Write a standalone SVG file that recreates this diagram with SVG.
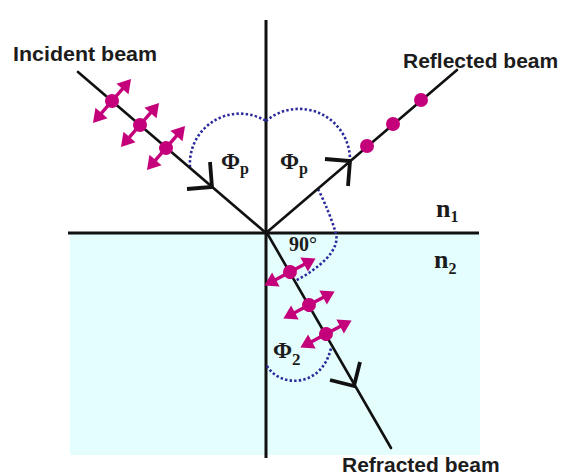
<svg xmlns="http://www.w3.org/2000/svg" xmlns:xlink="http://www.w3.org/1999/xlink" width="561" height="476" viewBox="0 0 561 476">
<style>
.axis{stroke:#111;stroke-width:3;fill:none}
.beam{stroke:#111;stroke-width:2.6;fill:none;stroke-linecap:round}
.chev{stroke:#111;stroke-width:3.8;fill:none;stroke-linejoin:miter}
.dot{stroke:#2b2b9c;stroke-width:2.6;fill:none;stroke-dasharray:2.4 2.2}
.lbl{font-family:"Liberation Sans",Arial,sans-serif;font-weight:bold;font-size:21px;fill:#1c1c1c}
.sym{font-family:"Liberation Serif","Times New Roman",serif;font-weight:bold;fill:#1c1c1c}
.pk{fill:#c4007a;stroke:none}
.pks{stroke:#c4007a;stroke-width:3.4}
</style>
<defs>
<g id="pol">
<line class="pks" x1="-18" y1="0" x2="18" y2="0"/>
<polygon class="pk" points="29,0 16,-8 16,8"/>
<polygon class="pk" points="-29,0 -16,-8 -16,8"/>
<circle class="pk" r="7"/>
</g>
</defs>
<rect x="0" y="0" width="561" height="476" fill="#ffffff"/>
<g id="medium2">
<rect x="70" y="233" width="410" height="222" fill="#e4fdfd"/>
</g>
<g id="axes">
<line class="axis" x1="266" y1="20" x2="266" y2="458"/>
<line class="axis" x1="68" y1="233" x2="479" y2="233"/>
</g>
<g id="angles">
<path class="dot" d="M190,167 A50,50 0 0 1 266,121"/>
<path class="dot" d="M266,121 A51,51 0 0 1 350,159"/>
<path class="dot" d="M318,189 C326,205 332,220 336,234 C340,250 320,268 295,281"/>
<path class="dot" d="M267,366 C280,388 322,388 331,348"/>
</g>
<g id="connectors">
<g id="incident">
<line class="beam" x1="78" y1="72" x2="266" y2="233"/>
<polyline class="chev" points="187,189 212,187 210,162"/>
<use xlink:href="#pol" href="#pol" transform="translate(112,101) rotate(-49)"/>
<use xlink:href="#pol" href="#pol" transform="translate(140,125) rotate(-49)"/>
<use xlink:href="#pol" href="#pol" transform="translate(166,148) rotate(-49)"/>
</g>
<g id="reflected">
<line class="beam" x1="266" y1="233" x2="457" y2="70"/>
<polyline class="chev" points="325,159 350,161 348,186"/>
<circle class="pk" cx="367" cy="146" r="7"/>
<circle class="pk" cx="393" cy="124" r="7"/>
<circle class="pk" cx="421" cy="100" r="7"/>
</g>
<g id="refracted">
<line class="beam" x1="267" y1="233" x2="391" y2="448"/>
<polyline class="chev" points="330,380 354,386 360,362"/>
<use xlink:href="#pol" href="#pol" transform="translate(290,272) rotate(-28)"/>
<use xlink:href="#pol" href="#pol" transform="translate(309,305) rotate(-28)"/>
<use xlink:href="#pol" href="#pol" transform="translate(326,334) rotate(-28)"/>
</g>
</g>
<g id="labels">
<text class="lbl" x="13" y="61" textLength="144" lengthAdjust="spacingAndGlyphs">Incident beam</text>
<text class="lbl" x="403" y="68">Reflected beam</text>
<text class="lbl" x="342" y="472">Refracted beam</text>
<text class="sym" x="221" y="169" font-size="23">Φ<tspan font-size="16" dy="5">p</tspan></text>
<text class="sym" x="280" y="169" font-size="23">Φ<tspan font-size="16" dy="5">p</tspan></text>
<text class="sym" x="273" y="358" font-size="23">Φ<tspan font-size="17" dy="7">2</tspan></text>
<text class="sym" x="289" y="251" font-size="20">90°</text>
<text class="sym" x="436" y="217" font-size="26">n<tspan font-size="16" dy="5">1</tspan></text>
<text class="sym" x="434" y="268" font-size="26">n<tspan font-size="16" dy="6">2</tspan></text>
</g>
</svg>
